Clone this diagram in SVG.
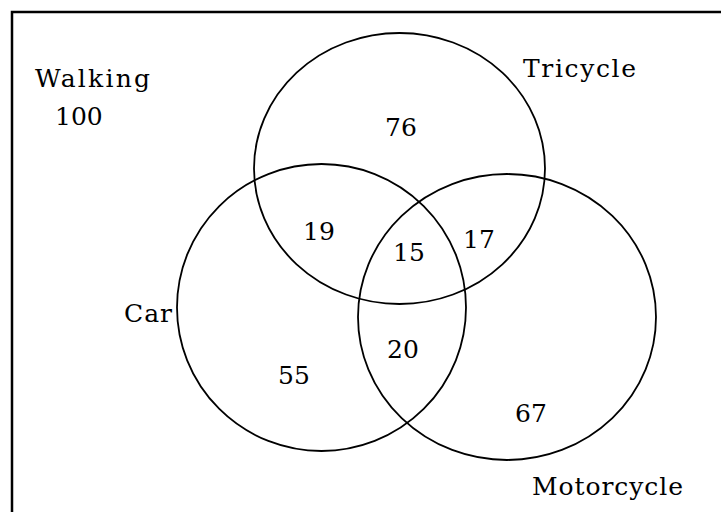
<svg xmlns="http://www.w3.org/2000/svg" width="721" height="512" viewBox="0 0 721 512">
<style>
.frame{fill:none;stroke:#000;stroke-width:2.5}
.set{fill:none;stroke:#000;stroke-width:1.8}
text{font-family:"DejaVu Serif","Liberation Serif",serif;font-size:25px;fill:#000}
</style>
<rect width="721" height="512" fill="#fff"/>
<g id="frame"><path class="frame" d="M12,512 V12 H721"/></g>
<g id="connectors"></g>
<g id="tricycle">
<ellipse class="set" cx="399.5" cy="168.5" rx="145.5" ry="135.5"/>
<text x="523" y="77" textLength="113" lengthAdjust="spacing">Tricycle</text>
</g>
<g id="car">
<ellipse class="set" cx="321.5" cy="307.5" rx="144.5" ry="143.5"/>
<text x="124" y="322" textLength="48" lengthAdjust="spacing">Car</text>
</g>
<g id="motorcycle">
<ellipse class="set" cx="507" cy="317" rx="149" ry="143"/>
<text x="532" y="495" textLength="151" lengthAdjust="spacing">Motorcycle</text>
</g>
<g id="walking">
<text x="35" y="87" textLength="115" lengthAdjust="spacing">Walking</text>
<text x="55" y="125">100</text>
</g>
<g id="counts">
<text x="385" y="136">76</text>
<text x="303" y="240">19</text>
<text x="393" y="261">15</text>
<text x="463" y="248">17</text>
<text x="387" y="358">20</text>
<text x="278" y="384">55</text>
<text x="515" y="422">67</text>
</g>
</svg>
